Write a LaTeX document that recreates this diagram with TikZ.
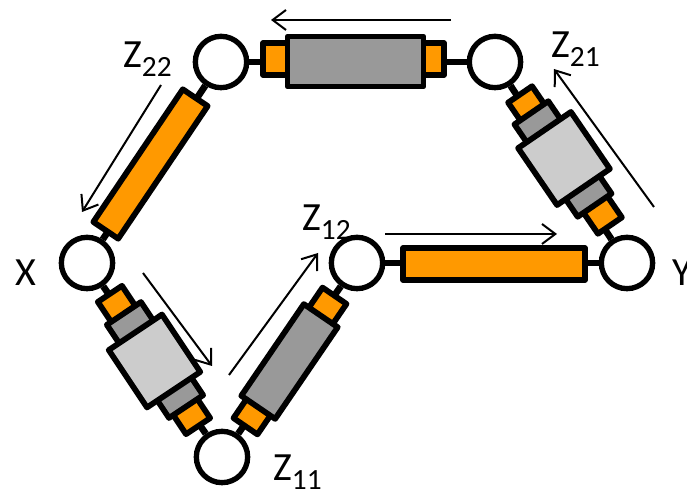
\documentclass[tikz,border=0pt]{standalone}
\usepackage{fontspec}
\setmainfont{Carlito}
\usetikzlibrary{arrows.meta}
\definecolor{stuborange}{HTML}{FF9900}
\definecolor{midgray}{HTML}{999999}
\definecolor{lightgray}{HTML}{CCCCCC}
\newcommand{\zlabel}[1]{Z{\fontsize{22}{22}\selectfont\raisebox{-6.5pt}{#1}}}
\tikzset{
  port/.style={circle,draw,line width=4pt,fill=white,inner sep=0pt,minimum size=38.5pt},
  box/.style n args={3}{rectangle,draw,line width=4.3pt,line join=round,inner sep=0pt,
    fill=#1,minimum width=#2*0.75pt,minimum height=#3*0.75pt},
  wire/.style={line width=5pt},
  flow/.style={line width=1.5pt,-{Straight Barb[length=10pt,width=15pt,line width=1.5pt]}},
  lbl/.style={anchor=base west,inner sep=0pt,font=\fontsize{30}{30}\selectfont}
}
\begin{document}
\begin{tikzpicture}[x=0.75pt,y=-0.75pt]
\useasboundingbox (0,0) rectangle (687,491);

% Labels
\node[lbl] (lx) at (15,286) {X};
\node[lbl] (ly) at (672,286) {Y};
\node[lbl] (l22) at (123,68) {\zlabel{22}};
\node[lbl] (l21) at (551,58) {\zlabel{21}};
\node[lbl] (l12) at (302,231) {\zlabel{12}};
\node[lbl] (l11) at (273,481) {\zlabel{11}};

% Ports
\node[port] (x) at (87,263) {};
\node[port] (y) at (627,263) {};
\node[port] (z22) at (221,62) {};
\node[port] (z21) at (495,62) {};
\node[port] (z12) at (357,263) {};
\node[port] (z11) at (222,457) {};

% Wires
\draw[wire] (z22) -- (z21);
\draw[wire] (z21) -- (y);
\draw[wire] (z12) -- (y);
\draw[wire] (z11) -- (z12);
\draw[wire] (x) -- (z11);
\draw[wire] (x) -- (z22);

% Top line
\node[box={stuborange}{181}{32}] (topstub) at (353.5,59) {};
\node[box={midgray}{136}{50}] (topbody) at (355.5,61.5) {};

% Line Z12 to Y
\node[box={stuborange}{182}{32}] (botbody) at (494,264) {};

% Line Z22 to X
\node[box={stuborange}{160}{30},rotate=56] (leftbody) at (150.5,164) {};

% Line Z21 to Y
\node[box={stuborange}{159}{29},rotate=-55.6] (rstub) at (565,160) {};
\node[box={midgray}{112}{41},rotate=-55.6] (rmid) at (563,159) {};
\node[box={lightgray}{69}{64},rotate=-55.6] (rbody) at (564,158.5) {};

% Line X to Z11
\node[box={stuborange}{159}{29},rotate=-56.3] (lstub) at (154,360) {};
\node[box={midgray}{112}{41},rotate=-56.3] (lmid) at (155,360) {};
\node[box={lightgray}{69}{64},rotate=-56.3] (lbody) at (154.5,361) {};

% Line Z11 to Z12
\node[box={stuborange}{158}{29},rotate=55.7] (mstub) at (290,361) {};
\node[box={midgray}{111}{41},rotate=55.7] (mbody) at (289.5,361.5) {};

% Flow arrows
\coordinate (a1s) at (451,20);
\coordinate (a1e) at (271,20);
\coordinate (a2s) at (654,207);
\coordinate (a2e) at (554,69);
\coordinate (a3s) at (385,234);
\coordinate (a3e) at (557,234);
\coordinate (a4s) at (229,375);
\coordinate (a4e) at (318,253);
\coordinate (a5s) at (143,273);
\coordinate (a5e) at (212,366);
\coordinate (a6s) at (161,85);
\coordinate (a6e) at (82,212);
\draw[flow] (a1s) -- (a1e);
\draw[flow] (a2s) -- (a2e);
\draw[flow] (a3s) -- (a3e);
\draw[flow] (a4s) -- (a4e);
\draw[flow] (a5s) -- (a5e);
\draw[flow] (a6s) -- (a6e);

\end{tikzpicture}
\end{document}
